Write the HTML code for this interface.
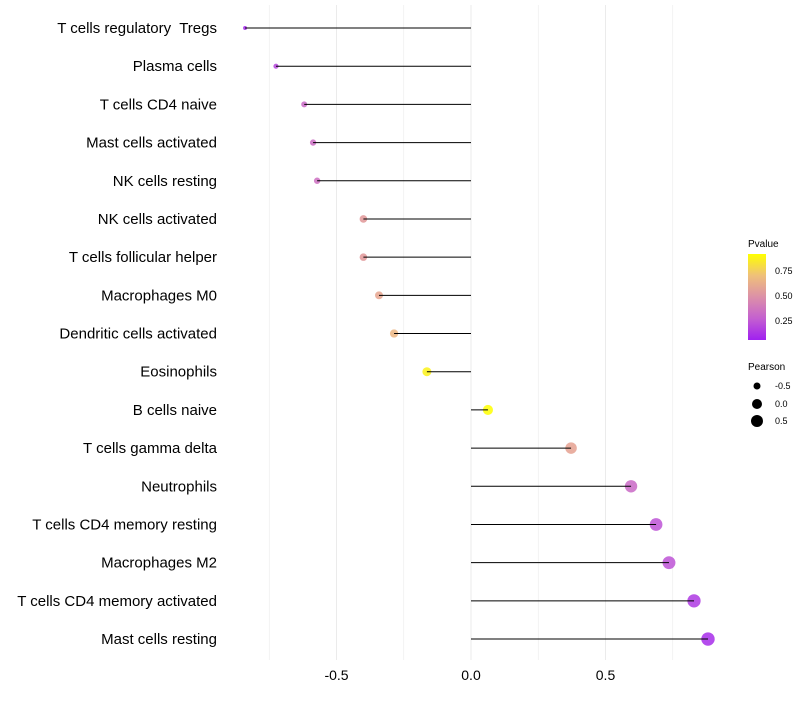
<!DOCTYPE html>
<html><head><meta charset="utf-8"><style>
body{margin:0;background:#fff;font-family:"Liberation Sans",sans-serif}
</style></head><body>
<svg id="c" width="800" height="700" xmlns="http://www.w3.org/2000/svg" font-family="Liberation Sans, sans-serif">
<defs><linearGradient id="pg" x1="0" y1="1" x2="0" y2="0">
<stop offset="0" stop-color="#a020f0"/><stop offset="0.25" stop-color="#c460d0"/><stop offset="0.5" stop-color="#dc90a8"/><stop offset="0.75" stop-color="#efc07a"/><stop offset="1" stop-color="#ffff00"/></linearGradient></defs>
<g id="grid"></g><g id="dots"></g><g id="stems"></g><g id="labels"></g><g id="ticks"></g>
<g font-size="10">
<text x="748" y="247" fill="#000">Pvalue</text>
<rect x="748" y="254" width="18" height="86" fill="url(#pg)"/>
<text x="775" y="274" font-size="9">0.75</text>
<text x="775" y="299" font-size="9">0.50</text>
<text x="775" y="324" font-size="9">0.25</text>
<text x="748" y="370">Pearson</text>
<circle cx="757" cy="386" r="3.5" fill="#000"/>
<circle cx="757" cy="404" r="5" fill="#000"/>
<circle cx="757" cy="421" r="6" fill="#000"/>
<text x="775" y="389" font-size="9">-0.5</text>
<text x="775" y="407" font-size="9">0.0</text>
<text x="775" y="424" font-size="9">0.5</text>
</g>
</svg>
<script>
const categories=["T cells regulatory  Tregs","Plasma cells","T cells CD4 naive","Mast cells activated","NK cells resting","NK cells activated","T cells follicular helper","Macrophages M0","Dendritic cells activated","Eosinophils","B cells naive","T cells gamma delta","Neutrophils","T cells CD4 memory resting","Macrophages M2","T cells CD4 memory activated","Mast cells resting"];
const pearson=[-0.84,-0.725,-0.62,-0.587,-0.572,-0.40,-0.40,-0.342,-0.286,-0.164,0.063,0.372,0.595,0.688,0.736,0.829,0.881];
const pvalues=[0.03,0.15,0.3,0.32,0.33,0.55,0.55,0.62,0.7,0.95,1.0,0.6,0.3,0.2,0.2,0.1,0.05];
const xTicks=[-0.5,0,0.5];
const xTickLabels=["-0.5","0.0","0.5"];
const gridVals=[-0.75,-0.5,-0.25,0,0.25,0.5,0.75];
const NS="http://www.w3.org/2000/svg";
const xs=v=>471+v*269;
const ys=i=>28+i*38.19;
const rs=v=>Math.sqrt(Math.max(2,24+24*v));
const stops=[[0,[160,32,240]],[0.25,[196,96,208]],[0.5,[222,140,160]],[0.75,[239,192,122]],[1,[255,255,0]]];
function col(p){for(let k=1;k<stops.length;k++){if(p<=stops[k][0]){const a=stops[k-1],b=stops[k],t=(p-a[0])/(b[0]-a[0]);return "rgb("+a[1].map((c,j)=>Math.round(c+(b[1][j]-c)*t)).join(",")+")";}}return "rgb(255,255,0)";}
function mk(t,attrs,parent){const e=document.createElementNS(NS,t);for(const k in attrs)e.setAttribute(k,attrs[k]);document.getElementById(parent).appendChild(e);return e;}
gridVals.forEach(v=>{const g=mk("line",{x1:xs(v),x2:xs(v),y1:5,y2:660,stroke:"#ebebeb","stroke-width":v%0.5===0?1:0.6},"grid");

});
categories.forEach((c,i)=>{
const d=mk("circle",{cx:xs(pearson[i]),cy:ys(i),r:rs(pearson[i]),fill:col(pvalues[i]),"fill-opacity":0.85},"dots");


const l=mk("line",{x1:xs(0),x2:xs(pearson[i]),y1:ys(i),y2:ys(i),stroke:"#000","stroke-width":1},"stems");


const t=mk("text",{x:217,y:ys(i)+5,"text-anchor":"end","font-size":15,fill:"#000","xml:space":"preserve"},"labels");
t.setAttribute("style","white-space:pre");
t.textContent=c;


});
xTicks.forEach((v,i)=>{const t=mk("text",{x:xs(v),y:680,"text-anchor":"middle","font-size":14,fill:"#000"},"ticks");
t.textContent=xTickLabels[i];

});
</script>
</body></html>
